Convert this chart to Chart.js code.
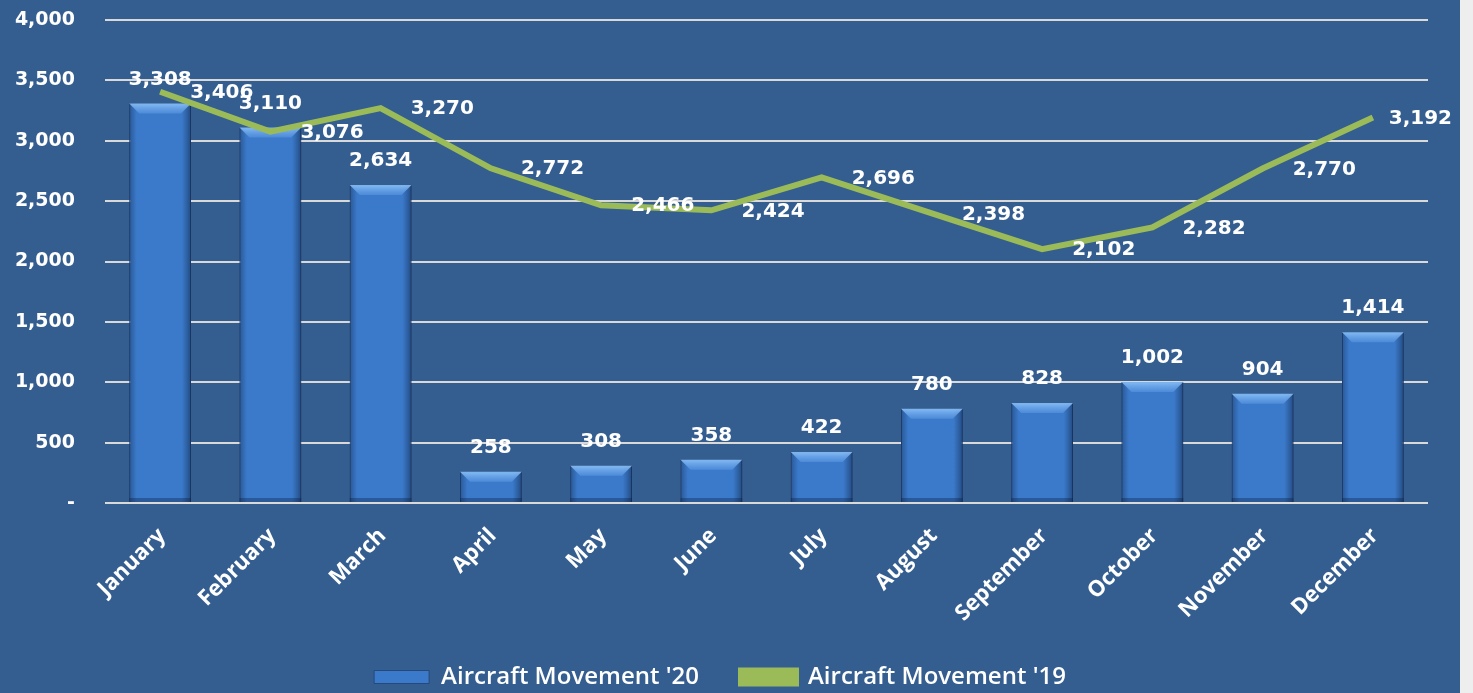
<!DOCTYPE html>
<html>
<head>
<meta charset="utf-8">
<script src="https://cdn.jsdelivr.net/npm/chart.js@4/dist/chart.umd.min.js"></script>
<style>
  body { margin: 0; background: #eeeeee; }
  #wrap { width: 1460px; height: 693px; background: #355e90; }
</style>
</head>
<body>
<div id="wrap"><canvas id="movChart" width="1460" height="693"></canvas></div>
<script>
const months = ["January", "February", "March", "April", "May", "June", "July", "August", "September", "October", "November", "December"];
const movement20 = [3308, 3110, 2634, 258, 308, 358, 422, 780, 828, 1002, 904, 1414];
const movement19 = [3406, 3076, 3270, 2772, 2466, 2424, 2696, 2398, 2102, 2282, 2770, 3192];

const fmt = (v) => v.toLocaleString("en-US");

// bevel look on the bars + value labels
const barDeco = {
  id: "barDeco",
  afterDatasetDraw(chart, args) {
    if (args.index !== 0) return;
    const ctx = chart.ctx;
    args.meta.data.forEach((bar) => {
      const l = bar.x - bar.width / 2, r = bar.x + bar.width / 2;
      const t = bar.y, b = bar.base;
      const g = ctx.createLinearGradient(l, 0, r, 0);
      g.addColorStop(0, "rgba(20,45,85,0.45)");
      g.addColorStop(0.12, "rgba(20,45,85,0)");
      g.addColorStop(0.85, "rgba(20,45,85,0)");
      g.addColorStop(1, "rgba(15,35,70,0.55)");
      ctx.save();
      ctx.fillStyle = g;
      ctx.fillRect(l, t, r - l, b - t);
      const bev = Math.min(10, (b - t) / 2);
      const bg = ctx.createLinearGradient(0, t, 0, t + bev);
      bg.addColorStop(0, "rgba(140,195,250,0.9)");
      bg.addColorStop(1, "rgba(90,150,225,0.6)");
      ctx.fillStyle = bg;
      ctx.beginPath();
      ctx.moveTo(l, t);
      ctx.lineTo(r, t);
      ctx.lineTo(r - bev, t + bev);
      ctx.lineTo(l + bev, t + bev);
      ctx.closePath();
      ctx.fill();
      ctx.fillStyle = "rgba(10,30,60,0.35)";
      ctx.fillRect(l, b - 4, r - l, 4);
      ctx.restore();
    });
  },
  afterDatasetsDraw(chart) {
    const ctx = chart.ctx;
    ctx.save();
    ctx.fillStyle = "#ffffff";
    ctx.font = "bold 20px 'DejaVu Sans'";
    ctx.textBaseline = "middle";
    ctx.textAlign = "center";
    chart.getDatasetMeta(0).data.forEach((bar, i) => {
      ctx.fillText(fmt(movement20[i]), bar.x, bar.y - 24);
    });
    ctx.textAlign = "left";
    chart.getDatasetMeta(1).data.forEach((pt, i) => {
      const txt = fmt(movement19[i]);
      let x = pt.x + 30;
      const w = ctx.measureText(txt).width;
      if (x + w > chart.width - 8) x = chart.width - 8 - w;
      ctx.fillText(txt, x, pt.y + 1);
    });
    ctx.restore();
  }
};

new Chart(document.getElementById("movChart"), {
  data: {
    labels: months,
    datasets: [
      {
        type: "bar",
        label: "Aircraft Movement '20",
        data: movement20,
        backgroundColor: "#3b7aca",
        borderColor: "#26497a",
        borderWidth: 1,
        barPercentage: 0.56,
        categoryPercentage: 1,
        order: 1,
      },
      {
        type: "line",
        label: "Aircraft Movement '19",
        data: movement19,
        borderColor: "#9bbb59",
        backgroundColor: "#9bbb59",
        borderWidth: 6,
        pointRadius: 0,
        tension: 0,
        order: 0,
      },
    ],
  },
  options: {
    responsive: false,
    animation: false,
    layout: { padding: { top: 0, right: 32, left: 12, bottom: -6 } },
    plugins: {
      tooltip: { enabled: false },
      legend: {
        position: "bottom",
        labels: {
          color: "#ffffff",
          font: { family: "'Open Sans'", size: 24, weight: "600" },
          boxWidth: 55,
          boxHeight: 13,
          padding: 42,
          sort: (a, b) => a.datasetIndex - b.datasetIndex,
        },
      },
    },
    scales: {
      x: {
        grid: { display: false },
        border: { display: false },
        ticks: {
          color: "#ffffff",
          font: { family: "'Open Sans'", size: 22, weight: "bold" },
          minRotation: 45,
          maxRotation: 45,
          labelOffset: 2,
          padding: 12,
        },
        afterFit(scale) { scale.height = 120; },
      },
      y: {
        min: 0,
        max: 4000,
        grid: { color: "#d9d9d9", lineWidth: 2, drawTicks: false },
        border: { display: false },
        ticks: {
          stepSize: 500,
          color: "#ffffff",
          padding: 30,
          font: { family: "'DejaVu Sans'", size: 19, weight: "bold" },
          callback: (v) => (v === 0 ? "-" : fmt(v)),
        },
        afterFit(scale) {
          scale.width = 93;
          scale.paddingTop = 20;
        },
      },
    },
  },
  plugins: [barDeco],
});
</script>
</body>
</html>
